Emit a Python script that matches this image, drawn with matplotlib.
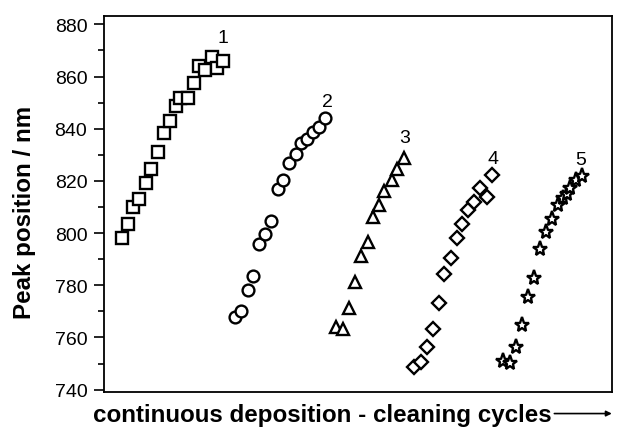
import matplotlib
matplotlib.use("Agg")
import matplotlib.pyplot as plt
from matplotlib.patches import FancyArrowPatch
from matplotlib.ticker import MultipleLocator

plt.rcParams['font.family'] = ['Liberation Sans', 'DejaVu Sans']

# cycle position (arbitrary units along the deposition/cleaning sequence) and peak position in nm
x1 = [1.8, 2.4, 2.9, 3.5, 4.2, 4.7, 5.4, 6.0, 6.6, 7.2, 7.6, 8.4, 9.0, 9.5, 10.1, 10.8, 11.3, 11.9]
y1 = [798.3, 803.5, 810.0, 813.0, 819.2, 824.5, 831.0, 838.3, 843.1, 848.6, 851.7, 851.7,
      857.6, 864.2, 862.6, 867.3, 863.2, 865.9]

x2 = [13.1, 13.7, 14.4, 14.9, 15.5, 16.1, 16.7, 17.4, 17.9, 18.5, 19.2, 19.7, 20.3, 20.9, 21.5, 22.1]
y2 = [767.7, 770.0, 778.2, 783.7, 795.8, 799.7, 804.8, 816.9, 820.4, 826.9, 830.3, 834.5,
      836.1, 838.9, 840.6, 844.0]

x3 = [23.2, 23.9, 24.5, 25.1, 25.7, 26.4, 26.9, 27.5, 28.0, 28.8, 29.3, 30.0]
y3 = [763.9, 763.2, 771.3, 781.4, 791.4, 796.5, 806.1, 810.8, 816.3, 820.5, 824.4, 828.7]

x4 = [31.0, 31.7, 32.3, 32.9, 33.5, 34.0, 34.7, 35.3, 35.8, 36.4, 37.0, 37.6, 38.3, 38.8]
y4 = [748.6, 750.5, 756.3, 763.3, 773.2, 784.4, 790.4, 798.1, 803.5, 809.0, 811.9, 817.3,
      813.7, 822.4]

x5 = [39.9, 40.6, 41.2, 41.8, 42.4, 43.0, 43.6, 44.2, 44.8, 45.4, 45.9, 46.3, 46.6, 47.2, 47.8]
y5 = [750.8, 750.3, 756.3, 764.6, 775.5, 782.8, 794.0, 800.4, 805.5, 810.6, 813.4, 815.1,
      817.3, 820.5, 821.8]

series = [(x1, y1, 's', 8), (x2, y2, 'o', 8.5), (x3, y3, '^', 9),
          (x4, y4, 'D', 7), (x5, y5, '*', 11)]

labels = ['1', '2', '3', '4', '5']
label_x = [11.9, 22.3, 30.1, 38.9, 47.7]
label_y = [875.0, 850.6, 836.6, 828.5, 828.3]

fig = plt.figure(figsize=(6.18, 4.35), dpi=100)
ax = fig.add_axes([0.1683, 0.0966, 0.822, 0.8637])

for xs, ys, m, ms in series:
    ax.plot(xs, ys, linestyle='none', marker=m, markersize=ms,
            markerfacecolor='white', markeredgecolor='black', markeredgewidth=1.7)

for t, lx, ly in zip(labels, label_x, label_y):
    ax.text(lx, ly, t, fontsize=14, ha='center', va='center')

ax.set_xlim(0, 50.8)
ax.set_ylim(739.1, 883.1)
ax.yaxis.set_major_locator(MultipleLocator(20))
ax.yaxis.set_minor_locator(MultipleLocator(10))
ax.set_xticks([])
ax.tick_params(axis='y', which='major', direction='out', length=7, width=1.2,
               labelsize=14, pad=5)
ax.tick_params(axis='y', which='minor', direction='out', length=4, width=1.2)
for sp in ax.spines.values():
    sp.set_linewidth(1.3)

fig.text(0.039, 0.512, 'Peak position / nm', fontsize=17.4, fontweight='bold',
         rotation=90, ha='center', va='center')

fig.text(0.15, 0.045, 'continuous deposition - cleaning cycles', fontsize=17.4,
         fontweight='bold', ha='left', va='center')
fig.add_artist(FancyArrowPatch(
    (0.897, 0.047), (0.99, 0.047), transform=fig.transFigure,
    arrowstyle='-|>', mutation_scale=8, linewidth=1.2, color='black',
    shrinkA=0, shrinkB=0))

fig.savefig('out.png', dpi=100)
